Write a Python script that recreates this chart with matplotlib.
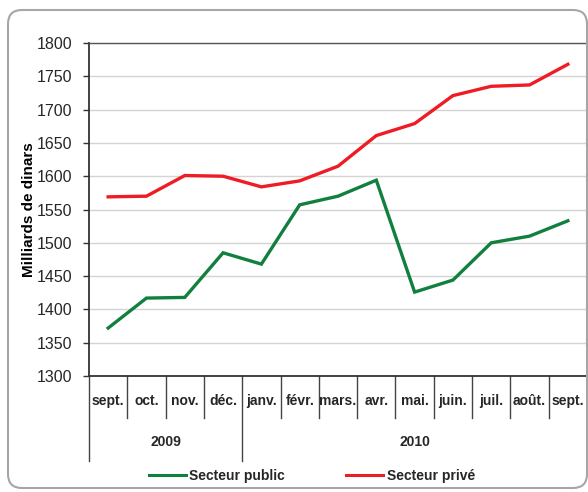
import matplotlib
matplotlib.use("Agg")
import matplotlib.pyplot as plt
from matplotlib.patches import FancyBboxPatch
from matplotlib.lines import Line2D

plt.rcParams['font.family'] = ['Liberation Sans', 'DejaVu Sans']

# -------------------------
# Data
# -------------------------
months = ['sept.', 'oct.', 'nov.', 'déc.', 'janv.', 'févr.', 'mars.',
          'avr.', 'mai.', 'juin.', 'juil.', 'août.', 'sept.']
years = ['2009', '2010']
year_counts = [4, 9]

public = [1372, 1417, 1418, 1485, 1468, 1557, 1570, 1594,
          1426, 1444, 1500, 1510, 1533]
prive = [1569, 1570, 1601, 1600, 1584, 1593, 1615, 1661,
         1679, 1721, 1735, 1737, 1768]

green = '#11803f'
red = '#ee1c25'
text_col = '#262626'

# -------------------------
# Figure
# -------------------------
W, H = 588, 492
fig = plt.figure(figsize=(W / 100, H / 100), dpi=100)

# rounded frame around the chart
frame = FancyBboxPatch((8, 4), 579, 478,
                       boxstyle="round,pad=0,rounding_size=14",
                       transform=None, fill=False,
                       edgecolor='#a6a6a6', linewidth=1.5)
fig.add_artist(frame)

L, R, T, B = 89, 587, 43, 376
ax = fig.add_axes([L / W, 1 - B / H, (R - L) / W, (B - T) / H])

x = list(range(len(months)))
ax.plot(x, public, color=green, linewidth=2.4, solid_joinstyle='miter')
ax.plot(x, prive, color=red, linewidth=2.4, solid_joinstyle='miter')

ax.set_xlim(-0.5, len(months) - 0.5)
ax.set_ylim(1300, 1800)
ax.set_yticks(range(1300, 1801, 50))
ax.yaxis.grid(True, color='#d4d4d4', linewidth=1)
ax.set_axisbelow(True)
ax.tick_params(axis='y', labelsize=11.5, labelcolor=text_col, length=4,
               width=1, color='#333333', pad=8)
ax.set_xticks([])
for s in ['left', 'bottom']:
    ax.spines[s].set_color('#333333')
    ax.spines[s].set_linewidth(1.3)
for s in ['top', 'right']:
    ax.spines[s].set_color('#555555')
    ax.spines[s].set_linewidth(1)

ax.set_ylabel('Milliards de dinars', fontsize=11, fontweight='bold',
              color='black')
ax.yaxis.set_label_coords((36 - L) / (R - L), 0.5)

# -------------------------
# Two-level category axis
# -------------------------
ah = B - T
trans = ax.get_xaxis_transform()
short = -42 / ah
long_ = -85 / ah

for i, m in enumerate(months):
    ax.text(i, -25 / ah, m, transform=trans, ha='center', va='center',
            fontsize=10, fontweight='bold', color=text_col)

year_edges = [0]
for c in year_counts:
    year_edges.append(year_edges[-1] + c)

for k in range(len(months) + 1):
    xb = k - 0.5
    y_end = long_ if k in year_edges else short
    ax.add_line(Line2D([xb, xb], [0, y_end], transform=trans,
                       color='#444444', linewidth=1, clip_on=False))

for yr, a, b in zip(years, year_edges[:-1], year_edges[1:]):
    ax.text((a + b - 1) / 2, -66 / ah, yr, transform=trans, ha='center',
            va='center', fontsize=10, fontweight='bold', color=text_col)

# -------------------------
# Legend
# -------------------------
handles = [Line2D([], [], color=green, linewidth=2.2),
           Line2D([], [], color=red, linewidth=2.2)]
fig.legend(handles, ['Secteur public', 'Secteur privé'], ncol=2,
           loc='center', bbox_to_anchor=(312 / W, 1 - 476 / H),
           frameon=False, prop={'size': 10, 'weight': 'bold'},
           handlelength=2.65, handletextpad=0.25, columnspacing=4.4,
           labelcolor=text_col)

fig.savefig('out.png', dpi=100)
